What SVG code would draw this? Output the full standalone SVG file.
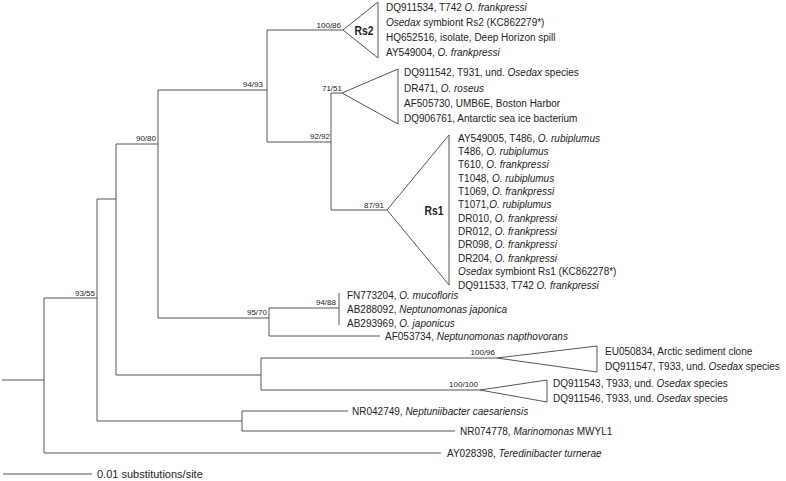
<svg xmlns="http://www.w3.org/2000/svg" width="786" height="481" viewBox="0 0 786 481">
<style>
.br{fill:none;stroke:#555;stroke-width:1}
.tri{fill:#fff;stroke:#555;stroke-width:1}
text{font-family:"Liberation Sans",Arial,sans-serif;fill:#222}
.t{font-size:10px}
.bs{font-size:8px;text-anchor:end}
.cl{font-size:12px;font-weight:bold;text-anchor:middle}
.i{font-style:italic}
</style>
<rect width="786" height="481" fill="#fff"/>
<g id="connectors">
<path class="br" d="M2,380H44M44,298V453M44,298H97M44,453H441M97,199V421M97,199H116M97,421H242M242,411V431M242,411H348M242,431H455M116,144V375M116,144H158M116,375H261M261,358V390M261,358H497M261,390H480M158,90V318M158,90H267M158,318H269M269,308V336M269,308H339M339,293V325M269,336H380M267,30V142M267,30H343M267,142H331M331,93V210M331,93H342M331,210H387"/>
</g>
<g id="bootstrap">
<text class="bs" x="95" y="296">93/55</text>
<text class="bs" x="156" y="141">90/80</text>
<text class="bs" x="263" y="87">94/93</text>
<text class="bs" x="341" y="28">100/86</text>
<text class="bs" x="342" y="91">71/51</text>
<text class="bs" x="330" y="139">92/92</text>
<text class="bs" x="384" y="208">87/91</text>
<text class="bs" x="267" y="315">95/70</text>
<text class="bs" x="336" y="305">94/88</text>
<text class="bs" x="495" y="355">100/96</text>
<text class="bs" x="478" y="387">100/100</text>
</g>
<g id="clade-Rs2">
<path class="tri" d="M343,30L378,2V58Z"/>
<text class="cl" x="364" y="35" textLength="19" lengthAdjust="spacingAndGlyphs">Rs2</text>
<text class="t" x="386" y="11">DQ911534, T742 <tspan class="i">O. frankpressi</tspan></text>
<text class="t" x="386" y="26"><tspan class="i">Osedax</tspan> symbiont Rs2 (KC862279*)</text>
<text class="t" x="386" y="41">HQ652516, isolate, Deep Horizon spill</text>
<text class="t" x="386" y="56">AY549004, <tspan class="i">O. frankpressi</tspan></text>
</g>
<g id="clade-7151">
<path class="tri" d="M342,93L398,69V124Z"/>
<text class="t" x="404" y="76">DQ911542, T931, und. <tspan class="i">Osedax</tspan> species</text>
<text class="t" x="404" y="92">DR471, <tspan class="i">O. roseus</tspan></text>
<text class="t" x="404" y="107">AF505730, UMB6E, Boston Harbor</text>
<text class="t" x="404" y="122">DQ906761, Antarctic sea ice bacterium</text>
</g>
<g id="clade-Rs1">
<path class="tri" d="M387,210L449,135V285Z"/>
<text class="cl" x="434" y="215" textLength="19" lengthAdjust="spacingAndGlyphs">Rs1</text>
<text class="t" x="458" y="141.5">AY549005, T486, <tspan class="i">O. rubiplumus</tspan></text>
<text class="t" x="458" y="154.9">T486, <tspan class="i">O. rubiplumus</tspan></text>
<text class="t" x="458" y="168.2">T610, <tspan class="i">O. frankpressi</tspan></text>
<text class="t" x="458" y="181.6">T1048, <tspan class="i">O. rubiplumus</tspan></text>
<text class="t" x="458" y="194.9">T1069, <tspan class="i">O. frankpressi</tspan></text>
<text class="t" x="458" y="208.3">T1071,<tspan class="i">O. rubiplumus</tspan></text>
<text class="t" x="458" y="221.7">DR010, <tspan class="i">O. frankpressi</tspan></text>
<text class="t" x="458" y="235">DR012, <tspan class="i">O. frankpressi</tspan></text>
<text class="t" x="458" y="248.4">DR098, <tspan class="i">O. frankpressi</tspan></text>
<text class="t" x="458" y="261.7">DR204, <tspan class="i">O. frankpressi</tspan></text>
<text class="t" x="458" y="275.1"><tspan class="i">Osedax</tspan> symbiont Rs1 (KC862278*)</text>
<text class="t" x="458" y="288.5">DQ911533, T742 <tspan class="i">O. frankpressi</tspan></text>
</g>
<g id="clade-9488">
<text class="t" x="347" y="298.5">FN773204, <tspan class="i">O. mucofloris</tspan></text>
<text class="t" x="347" y="312.5">AB288092, <tspan class="i">Neptunomonas japonica</tspan></text>
<text class="t" x="347" y="326.5">AB293969, <tspan class="i">O. japonicus</tspan></text>
</g>
<g id="leaf-AF053734">
<text class="t" x="385" y="340">AF053734, <tspan class="i">Neptunomonas napthovorans</tspan></text>
</g>
<g id="clade-10096">
<path class="tri" d="M497,358L597,346V372Z"/>
<text class="t" x="605" y="355">EU050834, Arctic sediment clone</text>
<text class="t" x="605" y="370">DQ911547, T933, und. <tspan class="i">Osedax</tspan> species</text>
</g>
<g id="clade-100100">
<path class="tri" d="M480,390L547,380V402Z"/>
<text class="t" x="553" y="387">DQ911543, T933, und. <tspan class="i">Osedax</tspan> species</text>
<text class="t" x="553" y="402">DQ911546, T933, und. <tspan class="i">Osedax</tspan> species</text>
</g>
<g id="leaf-NR042749">
<text class="t" x="352" y="414.5">NR042749, <tspan class="i">Neptuniibacter caesariensis</tspan></text>
</g>
<g id="leaf-NR074778">
<text class="t" x="460" y="434.5">NR074778, <tspan class="i">Marinomonas</tspan> MWYL1</text>
</g>
<g id="leaf-AY028398">
<text class="t" x="447" y="457">AY028398, <tspan class="i">Teredinibacter turnerae</tspan></text>
</g>
<g id="scale">
<path class="br" d="M3,474H92"/>
<text x="97" y="478" font-size="11">0.01 substitutions/site</text>
</g>
</svg>
